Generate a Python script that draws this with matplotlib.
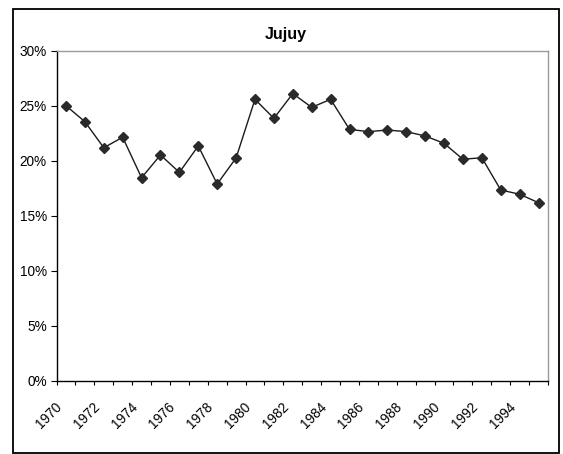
import matplotlib
matplotlib.use("Agg")
import matplotlib.pyplot as plt
from matplotlib.patches import Rectangle
from matplotlib.transforms import ScaledTranslation

plt.rcParams["font.family"] = ["Liberation Sans", "DejaVu Sans"]

years = list(range(1970, 1996))
share = [25.0, 23.55, 21.18, 22.13, 18.45, 20.52, 18.94, 21.34, 17.88, 20.25,
         25.58, 23.85, 26.1, 24.85, 25.58, 22.85, 22.64, 22.79, 22.64, 22.25,
         21.58, 20.13, 20.27, 17.34, 16.95, 16.18]
y_ticks = [0, 5, 10, 15, 20, 25, 30]

fig = plt.figure(figsize=(5.63, 4.54), dpi=100)
W, H = 563, 454

# chart area border
fig.add_artist(Rectangle((13.3 / W, 1 - 452.7 / H), (558.7 - 13.3) / W, (452.7 - 8.7) / H,
                         transform=fig.transFigure, fill=False, edgecolor="black", linewidth=1.3))

ax = fig.add_axes([56.5 / W, 1 - 380.7 / H, (548 - 56.5) / W, 330 / H])

x = list(range(len(years)))
ax.plot(x, share, color="#1a1a1a", linewidth=1.0, marker="D", markersize=5.2,
        markerfacecolor="#2a2a2a", markeredgecolor="#2a2a2a")

ax.set_xlim(-0.5, len(years) - 0.5)
ax.set_ylim(0, 30)

ax.set_yticks(y_ticks)
ax.set_yticklabels([f"{v}%" for v in y_ticks], fontsize=9.8)
ax.tick_params(axis="y", direction="out", length=4.3, width=0.8, pad=2.6)

# ticks between categories, labels every other year
ax.set_xticks([i - 0.5 for i in range(len(years) + 1)])
ax.set_xticklabels([])
ax.tick_params(axis="x", direction="out", length=3, width=0.8)

offset = ScaledTranslation(-6.5 / 100, -24 / 100, fig.dpi_scale_trans)
for i, yr in enumerate(years):
    if i % 2 == 0:
        ax.text(i, 0, str(yr), transform=ax.get_xaxis_transform() + offset,
                rotation=45, rotation_mode="anchor", ha="right", va="center",
                fontsize=9.8)

for side in ["left", "bottom"]:
    ax.spines[side].set_color("black")
    ax.spines[side].set_linewidth(1.0)
for side in ["top", "right"]:
    ax.spines[side].set_color("#9a9a9a")
    ax.spines[side].set_linewidth(1.0)

fig.text(286 / W, 1 - 39.3 / H, "Jujuy", ha="center", va="baseline",
         fontsize=11.5, fontweight="bold")

fig.savefig("out.png", dpi=100)
